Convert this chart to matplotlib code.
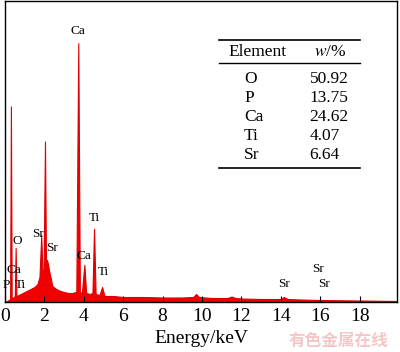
import matplotlib
matplotlib.use('Agg')
import matplotlib.pyplot as plt

plt.rcParams['font.family'] = ['Liberation Serif', 'DejaVu Serif']
plt.rcParams['mathtext.fontset'] = 'stix'

# spectrum (energy in keV, counts in arbitrary units)
energy = [0.0, 0.2, 0.26, 0.30, 0.34, 0.40, 0.50, 0.54, 0.58, 0.7, 0.9, 1.1, 1.3,
          1.5, 1.65, 1.75, 1.84, 1.90, 1.96, 2.03, 2.08, 2.13, 2.18, 2.25, 2.32,
          2.4, 2.6, 2.8, 3.0, 3.2, 3.4, 3.62, 3.72, 3.80, 3.9, 4.03, 4.12, 4.3,
          4.44, 4.52, 4.60, 4.8, 4.93, 5.05, 5.5, 6.0, 7.0, 8.0, 9.0, 9.55, 9.7,
          9.85, 10.5, 11.3, 11.5, 11.7, 12.0, 13.0, 14.0, 14.15, 14.35, 15.0,
          16.0, 18.0, 20.0]
counts = [0, 2, 3, 195, 3, 4, 6, 54, 6, 7, 9, 11, 13,
          15, 18, 25, 67, 30, 32, 160, 40, 42, 38, 30, 24,
          16, 13, 11, 10, 9, 9, 10, 258, 10, 9, 37, 9, 8,
          9, 73, 8, 7, 15, 6, 6, 5, 5, 4.5, 4.5, 5, 8,
          5, 4, 4, 5.5, 4, 3.5, 3, 3, 5, 3, 2.5,
          2, 1.5, 1]

peak_names = ['Ca', 'O', 'P', 'Ca', 'Ti', 'Sr', 'Sr', 'Ca', 'Ti', 'Ti', 'Sr', 'Sr', 'Sr']
peak_x = [3.72, 0.60, 0.05, 0.45, 0.80, 1.70, 2.40, 4.02, 4.55, 5.00, 14.15, 15.9, 16.2]
peak_y = [264, 55, 11, 26, 11, 62, 48, 40, 78, 24, 12, 27, 12]

elements = ['O', 'P', 'Ca', 'Ti', 'Sr']
fractions = ['50.92', '13.75', '24.62', '4.07', '6.64']

fig = plt.figure(figsize=(4.0, 3.52), dpi=100)
ax = fig.add_axes([0.0125, 0.142, 0.98, 0.855])

ax.fill_between(energy, counts, 0, color='#f00000', lw=0.8, edgecolor='#e00000')
for name, x, y in zip(peak_names, peak_x, peak_y):
    ax.text(x, y, name, fontsize=9.5, ha='center', va='bottom')

ax.set_xlim(0, 19.9)
ax.set_ylim(0, 300)
ax.set_xticks(range(0, 20, 2))
ax.set_yticks([])
ax.tick_params(axis='x', direction='in', length=4, labelsize=14, pad=4)
ax.set_xlabel('Energy/keV', fontsize=14, labelpad=4)
for s in ax.spines.values():
    s.set_linewidth(1.0)

# composition table
tx0, tx1 = 0.545, 0.905
ax.plot([tx0, tx1], [0.87, 0.87], transform=ax.transAxes, color='k', lw=1.2, clip_on=False)
ax.plot([tx0, tx1], [0.795, 0.795], transform=ax.transAxes, color='k', lw=1.0, clip_on=False)
ax.plot([tx0, tx1], [0.445, 0.445], transform=ax.transAxes, color='k', lw=1.2, clip_on=False)
ax.text(0.645, 0.83, 'Element', transform=ax.transAxes, fontsize=12.5, ha='center', va='center')
ax.text(0.83, 0.83, r'$w$/%', transform=ax.transAxes, fontsize=12.5, ha='center', va='center')
for i, (el, fr) in enumerate(zip(elements, fractions)):
    yy = 0.742 - i * 0.063
    ax.text(0.61, yy, el, transform=ax.transAxes, fontsize=12.5, ha='left', va='center')
    ax.text(0.777, yy, fr, transform=ax.transAxes, fontsize=12.5, ha='left', va='center')

fig.text(0.845, 0.03, '有色金属在线', fontsize=12, color='#f5c6c6', weight='bold',
         family=['Noto Sans CJK SC', 'DejaVu Sans'], ha='center', va='center')

fig.savefig('out.png', dpi=100)
